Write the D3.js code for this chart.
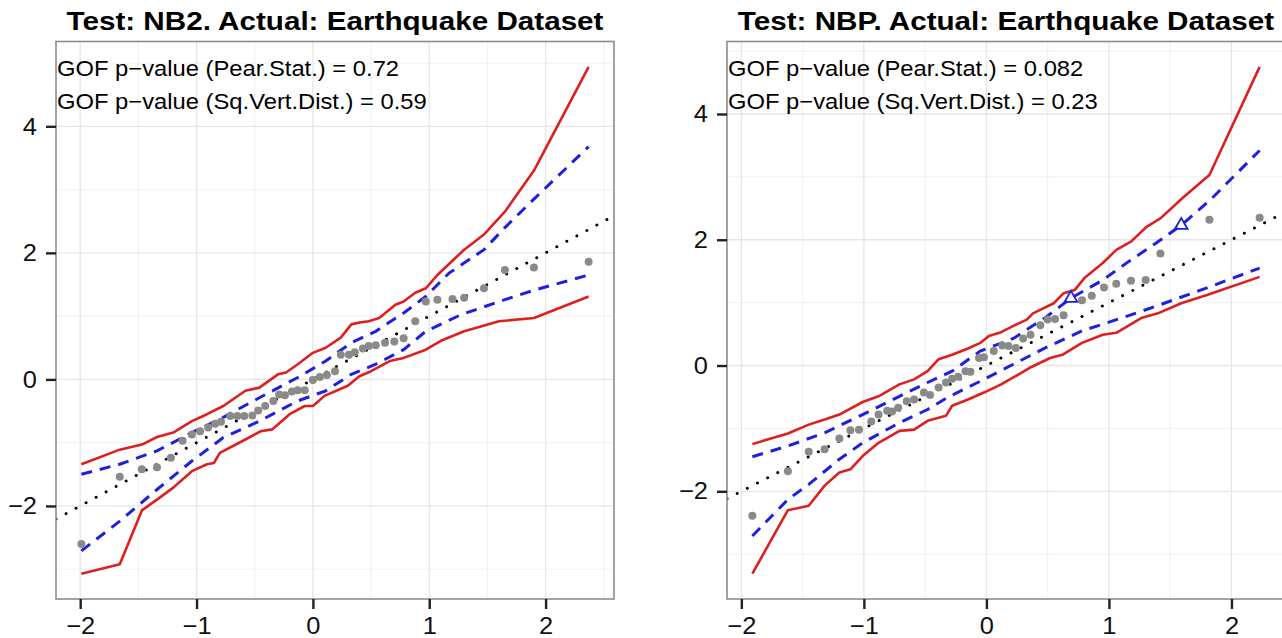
<!DOCTYPE html>
<html>
<head>
<meta charset="utf-8">
<script src="https://cdn.jsdelivr.net/npm/d3@7"></script>
<style>
  html, body { margin: 0; padding: 0; background: #fff; overflow: hidden; }
  svg { display: block; font-family: "Liberation Sans", Arial, Helvetica, sans-serif; }
</style>
</head>
<body>
<svg id="chart" width="1282" height="638"></svg>
<script>
// ---------------- DATA ----------------
const titles = ["Test: NB2. Actual: Earthquake Dataset", "Test: NBP. Actual: Earthquake Dataset"];
const gofLines = [
  ["GOF p\u2212value (Pear.Stat.) = 0.72", "GOF p\u2212value (Sq.Vert.Dist.) = 0.59"],
  ["GOF p\u2212value (Pear.Stat.) = 0.082", "GOF p\u2212value (Sq.Vert.Dist.) = 0.23"]
];
const xTicks = [-2, -1, 0, 1, 2];
const xTickLabels = ["\u22122", "\u22121", "0", "1", "2"];
const yTicks = [-2, 0, 2, 4];
const yTickLabels = ["\u22122", "0", "2", "4"];
const refSlope = 1, refIntercept = 0;

// Left panel (NB2)
const leftPtX = [-1.99,-1.66,-1.47,-1.34,-1.22,-1.12,-1.04,-0.97,-0.90,-0.84,-0.79,-0.71,-0.65,-0.59,-0.52,-0.47,-0.41,-0.34,-0.29,-0.24,-0.18,-0.13,-0.07,0.00,0.06,0.12,0.19,0.24,0.31,0.36,0.43,0.48,0.54,0.62,0.70,0.78,0.88,0.97,1.07,1.20,1.30,1.47,1.65,1.90,2.37];
const leftPtY = [-2.60,-1.54,-1.42,-1.39,-1.24,-0.97,-0.87,-0.82,-0.76,-0.70,-0.67,-0.58,-0.58,-0.58,-0.57,-0.49,-0.42,-0.34,-0.24,-0.25,-0.19,-0.17,-0.17,-0.01,0.04,0.07,0.13,0.39,0.39,0.43,0.49,0.53,0.54,0.58,0.60,0.65,0.92,1.23,1.26,1.27,1.29,1.44,1.73,1.77,1.86];
const leftRedUpX = [-1.99,-1.66,-1.47,-1.34,-1.20,-1.04,-0.91,-0.77,-0.58,-0.46,-0.30,-0.23,-0.13,0.00,0.11,0.24,0.33,0.40,0.48,0.57,0.71,0.78,0.88,0.97,1.07,1.30,1.47,1.65,1.90,2.37];
const leftRedUpY = [-1.34,-1.11,-1.03,-0.91,-0.84,-0.66,-0.55,-0.42,-0.18,-0.13,0.08,0.11,0.24,0.42,0.50,0.66,0.87,0.90,0.92,0.97,1.18,1.23,1.37,1.44,1.65,2.05,2.29,2.65,3.30,4.94];
const leftBlueUpX = [-1.99,-1.66,-1.34,-1.04,-0.77,-0.46,-0.13,0.11,0.33,0.54,0.78,0.97,1.17,1.47,1.65,1.90,2.37];
const leftBlueUpY = [-1.50,-1.34,-1.13,-0.84,-0.60,-0.29,0.03,0.29,0.58,0.76,1.05,1.31,1.68,2.05,2.40,2.85,3.68];
const leftBlueLoX = [-1.99,-1.66,-1.34,-1.04,-0.77,-0.46,-0.13,0.11,0.33,0.54,0.78,0.97,1.27,1.65,1.90,2.37];
const leftBlueLoY = [-2.71,-2.24,-1.74,-1.29,-0.92,-0.66,-0.34,-0.18,0.08,0.24,0.47,0.76,1.02,1.26,1.41,1.65];
const leftRedLoX = [-1.99,-1.66,-1.47,-1.34,-1.20,-1.04,-0.91,-0.85,-0.80,-0.58,-0.45,-0.35,-0.20,-0.07,0.00,0.10,0.30,0.40,0.50,0.66,0.78,0.97,1.10,1.30,1.60,1.90,2.37];
const leftRedLoY = [-3.07,-2.92,-2.07,-1.90,-1.71,-1.45,-1.34,-1.32,-1.16,-0.95,-0.82,-0.79,-0.55,-0.42,-0.42,-0.26,-0.10,0.05,0.13,0.29,0.34,0.47,0.61,0.76,0.92,0.97,1.31];
const leftFlagX = [];
const leftFlagY = [];

// Right panel (NBP)
const rightPtX = [-1.91,-1.62,-1.45,-1.32,-1.20,-1.11,-1.04,-0.94,-0.88,-0.81,-0.77,-0.72,-0.65,-0.59,-0.51,-0.46,-0.39,-0.33,-0.28,-0.23,-0.17,-0.13,-0.06,-0.02,0.06,0.13,0.18,0.24,0.30,0.36,0.44,0.50,0.56,0.63,0.78,0.86,0.96,1.06,1.18,1.30,1.42,1.82,2.23];
const rightPtY = [-2.39,-1.68,-1.37,-1.33,-1.16,-1.03,-1.02,-0.89,-0.78,-0.72,-0.73,-0.67,-0.57,-0.54,-0.43,-0.47,-0.35,-0.27,-0.21,-0.18,-0.09,-0.10,0.12,0.13,0.23,0.32,0.31,0.28,0.43,0.49,0.64,0.73,0.74,0.80,1.04,1.11,1.24,1.30,1.35,1.36,1.78,2.32,2.35];
const rightRedUpX = [-1.91,-1.62,-1.45,-1.32,-1.20,-1.01,-0.88,-0.71,-0.59,-0.48,-0.39,-0.28,-0.15,-0.05,0.02,0.12,0.22,0.33,0.38,0.55,0.63,0.72,0.80,0.95,1.06,1.18,1.31,1.42,1.61,1.82,2.23];
const rightRedUpY = [-1.25,-1.08,-0.94,-0.86,-0.78,-0.58,-0.49,-0.30,-0.22,-0.09,0.10,0.17,0.27,0.36,0.47,0.53,0.63,0.73,0.83,0.99,1.15,1.20,1.39,1.63,1.84,1.97,2.21,2.34,2.68,3.03,4.75];
const rightBlueUpX = [-1.91,-1.62,-1.32,-1.01,-0.71,-0.48,-0.28,-0.05,0.22,0.48,0.69,0.95,1.18,1.38,1.59,1.82,2.23];
const rightBlueUpY = [-1.45,-1.28,-1.07,-0.78,-0.49,-0.27,-0.09,0.23,0.43,0.76,1.07,1.36,1.68,1.94,2.23,2.62,3.42];
const rightBlueLoX = [-1.91,-1.62,-1.45,-1.20,-1.01,-0.71,-0.48,-0.32,-0.05,0.22,0.48,0.78,1.11,1.38,1.82,2.23];
const rightBlueLoY = [-2.71,-2.13,-1.89,-1.49,-1.23,-0.91,-0.70,-0.51,-0.25,0.02,0.28,0.55,0.76,0.94,1.25,1.55];
const rightRedLoX = [-1.91,-1.62,-1.45,-1.32,-1.20,-1.11,-1.01,-0.88,-0.78,-0.71,-0.59,-0.48,-0.33,-0.28,-0.15,-0.02,0.12,0.22,0.35,0.52,0.62,0.78,0.95,1.06,1.27,1.40,1.59,1.80,2.23];
const rightRedLoY = [-3.31,-2.30,-2.23,-1.91,-1.70,-1.65,-1.44,-1.23,-1.12,-1.04,-1.02,-0.88,-0.80,-0.64,-0.54,-0.43,-0.30,-0.19,-0.04,0.12,0.17,0.36,0.49,0.52,0.76,0.83,0.99,1.12,1.41];
const rightFlagX = [0.69, 1.59];
const rightFlagY = [1.07, 2.23];

// ---------------- DRAW ----------------
const svg = d3.select("#chart");
const zip = (xs, ys) => xs.map((v, i) => [v, ys[i]]);
const RED = "#de1f1f", BLUE = "#1f1fe0";

function stretch(sel, k) {
  sel.each(function () {
    const len = this.getComputedTextLength();
    d3.select(this).attr("textLength", len * k).attr("lengthAdjust", "spacingAndGlyphs");
  });
}

const panels = [
  { L: 56, title: titles[0], gof: gofLines[0], pts: zip(leftPtX, leftPtY),
    redUp: zip(leftRedUpX, leftRedUpY), blueUp: zip(leftBlueUpX, leftBlueUpY),
    blueLo: zip(leftBlueLoX, leftBlueLoY), redLo: zip(leftRedLoX, leftRedLoY),
    flags: zip(leftFlagX, leftFlagY) },
  { L: 727, title: titles[1], gof: gofLines[1], pts: zip(rightPtX, rightPtY),
    redUp: zip(rightRedUpX, rightRedUpY), blueUp: zip(rightBlueUpX, rightBlueUpY),
    blueLo: zip(rightBlueLoX, rightBlueLoY), redLo: zip(rightRedLoX, rightRedLoY),
    flags: zip(rightFlagX, rightFlagY) }
];

const TOP = 41.5, BOTTOM = 599, PW = 558;

panels.forEach((p, pi) => {
  const allX = p.pts.map(d => d[0]).concat(p.redUp.map(d => d[0]), p.redLo.map(d => d[0]));
  const allY = p.pts.map(d => d[1]).concat(p.redUp.map(d => d[1]), p.redLo.map(d => d[1]));
  const [x0, x1] = d3.extent(allX), [y0, y1] = d3.extent(allY);
  const px = (x1 - x0) * 0.05, py = (y1 - y0) * 0.05;
  const x = d3.scaleLinear().domain([x0 - px, x1 + px]).range([p.L, p.L + PW]);
  const y = d3.scaleLinear().domain([y0 - py, y1 + py]).range([BOTTOM, TOP]);
  const g = svg.append("g");

  g.append("rect").attr("x", p.L).attr("y", TOP).attr("width", PW).attr("height", BOTTOM - TOP).attr("fill", "#fff");

  // minor grid
  const xd = x.domain(), yd = y.domain();
  const xMinor = d3.range(Math.ceil(xd[0] * 2) / 2, xd[1], 0.5).filter(v => Math.abs(v - Math.round(v)) > 0.01);
  const yMinor = d3.range(Math.ceil(yd[0]), yd[1], 1).filter(v => Math.abs(v % 2) === 1);
  g.selectAll(".xminor").data(xMinor).join("line")
    .attr("x1", d => x(d)).attr("x2", d => x(d)).attr("y1", TOP).attr("y2", BOTTOM)
    .attr("stroke", "#f2f2f2").attr("stroke-width", 1.2);
  g.selectAll(".yminor").data(yMinor).join("line")
    .attr("x1", p.L).attr("x2", p.L + PW).attr("y1", d => y(d)).attr("y2", d => y(d))
    .attr("stroke", "#f2f2f2").attr("stroke-width", 1.2);
  // major grid
  g.selectAll(".xmajor").data(xTicks.filter(v => v >= xd[0] && v <= xd[1])).join("line")
    .attr("x1", d => x(d)).attr("x2", d => x(d)).attr("y1", TOP).attr("y2", BOTTOM)
    .attr("stroke", "#e6e6e6").attr("stroke-width", 1.3);
  g.selectAll(".ymajor").data(yTicks).join("line")
    .attr("x1", p.L).attr("x2", p.L + PW).attr("y1", d => y(d)).attr("y2", d => y(d))
    .attr("stroke", "#e6e6e6").attr("stroke-width", 1.3);

  // clip
  const cid = "clip" + pi;
  svg.append("clipPath").attr("id", cid).append("rect")
    .attr("x", p.L).attr("y", TOP).attr("width", PW).attr("height", BOTTOM - TOP);
  const plot = g.append("g").attr("clip-path", `url(#${cid})`);

  const line = d3.line().x(d => x(d[0])).y(d => y(d[1]));

  // reference line (dotted)
  const refPts = xd.map(v => [v, refSlope * v + refIntercept]);
  plot.append("path").attr("d", line(refPts)).attr("fill", "none")
    .attr("stroke", "#000").attr("stroke-width", 2.9).attr("stroke-linecap", "round")
    .attr("stroke-dasharray", "0.1 11.3");

  // envelopes
  [p.redUp, p.redLo].forEach(s => {
    plot.append("path").attr("d", line(s)).attr("fill", "none")
      .attr("stroke", RED).attr("stroke-width", 2.6).attr("stroke-linejoin", "round");
  });
  [p.blueUp, p.blueLo].forEach(s => {
    plot.append("path").attr("d", line(s)).attr("fill", "none")
      .attr("stroke", BLUE).attr("stroke-width", 3).attr("stroke-dasharray", "11 8");
  });

  // points
  plot.selectAll(".pt").data(p.pts).join("circle")
    .attr("cx", d => x(d[0])).attr("cy", d => y(d[1])).attr("r", 4)
    .attr("fill", "#8a8a8a");
  plot.selectAll(".flag").data(p.flags).join("path")
    .attr("transform", d => `translate(${x(d[0])},${y(d[1])})`)
    .attr("d", d3.symbol(d3.symbolTriangle, 70))
    .attr("fill", "none").attr("stroke", BLUE).attr("stroke-width", 1.8);

  // border
  g.append("rect").attr("x", p.L).attr("y", TOP).attr("width", PW).attr("height", BOTTOM - TOP)
    .attr("fill", "none").attr("stroke", "#8c8c8c").attr("stroke-width", 1.6);

  // axes
  const ax = g.append("g").attr("transform", `translate(0,${BOTTOM})`)
    .call(d3.axisBottom(x).tickValues(xTicks).tickSize(10).tickPadding(8)
      .tickFormat((d, i) => xTickLabels[i]));
  const ay = g.append("g").attr("transform", `translate(${p.L},0)`)
    .call(d3.axisLeft(y).tickValues(yTicks).tickSize(10).tickPadding(9)
      .tickFormat((d, i) => yTickLabels[i]));
  [ax, ay].forEach(a => {
    a.select(".domain").remove();
    a.selectAll(".tick line").attr("stroke", "#222").attr("stroke-width", 2.4);
    a.selectAll(".tick text").attr("fill", "#111").attr("font-size", 24)
      .attr("font-family", "Liberation Sans, Arial, sans-serif");
    stretch(a.selectAll(".tick text"), 1.06);
  });

  // title
  const t = g.append("text").attr("x", p.L + PW / 2).attr("y", 30).attr("text-anchor", "middle")
    .attr("font-size", 26).attr("font-weight", "bold").attr("fill", "#000").text(p.title);
  stretch(t, 1.14);

  // GOF annotation
  p.gof.forEach((s, i) => {
    const tt = g.append("text").attr("x", p.L + 1).attr("y", 76 + i * 33)
      .attr("font-size", 22).attr("fill", "#000").text(s);
    stretch(tt, 1.08);
  });
});
</script>
</body>
</html>
